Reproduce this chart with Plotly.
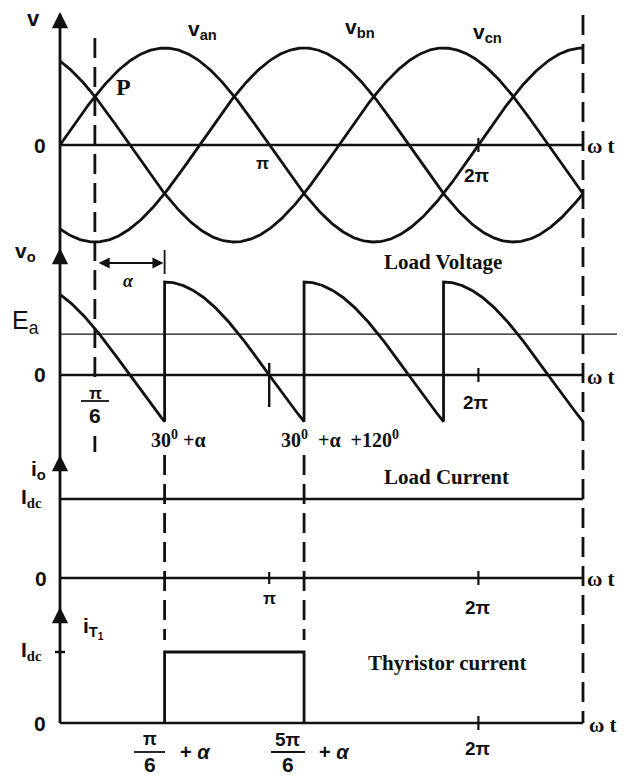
import numpy as np
import plotly.graph_objects as go

W, H = 629, 778

# ---- waveform data (angles in degrees) ----
PHASE_LABELS = ["v<sub>an</sub>", "v<sub>bn</sub>", "v<sub>cn</sub>"]
PHASE_SHIFTS_DEG = [0, 120, 240]
PEAK = 1.0
THETA_END = 450            # 2.5π, end of the drawn window

ALPHA_DEG = 60
FIRING_DEG = [90, 210, 330]                 # π/6 + α, then every 120°
INTERVAL_EDGES_DEG = [0, 90, 210, 330, 450]  # conduction intervals of the output
INTERVAL_PHASE = [2, 0, 1, 2]                # phase conducting in each interval (a=0, b=1, c=2)
EA_LEVEL = 0.44
IDC = 1.0
T1_ON_DEG = 90
T1_OFF_DEG = 210

# ---- geometry helpers ----
X0_PX, XEND_PX = 60, 583
K = (XEND_PX - X0_PX) / THETA_END          # px per degree


def px_x(px):
    return px / W


def px_y(py):
    return 1 - py / H


def panel_axis(top_px, bottom_px, zero_px, unit_px):
    return dict(domain=[px_y(bottom_px), px_y(top_px)],
                range=[(zero_px - bottom_px) / unit_px, (zero_px - top_px) / unit_px],
                visible=False, anchor="x", fixedrange=True)


SANS = "Liberation Sans"
SERIF = "Liberation Serif"
INK = "#111111"
LW = 2.8

fig = go.Figure()


def line(x, y, yaxis, width=LW, dash=None):
    fig.add_trace(go.Scatter(x=x, y=y, yaxis=yaxis, mode="lines",
                             line=dict(color=INK, width=width, dash=dash),
                             hoverinfo="skip", showlegend=False))


# ---- panel 1: supply phase voltages ----
theta = np.linspace(0, THETA_END, 600)
for shift in PHASE_SHIFTS_DEG:
    line(theta, PEAK * np.sin(np.radians(theta - shift)), "y")
line([0, THETA_END], [0, 0], "y", width=2.3)

# ---- panel 2: load voltage ----
vo_x, vo_y = [], []
for (a, b), ph in zip(zip(INTERVAL_EDGES_DEG[:-1], INTERVAL_EDGES_DEG[1:]), INTERVAL_PHASE):
    seg = np.linspace(a, b, 120)
    vo_x.extend(seg)
    vo_y.extend(PEAK * np.sin(np.radians(seg - PHASE_SHIFTS_DEG[ph])))
line(vo_x, vo_y, "y2")
line([0, THETA_END], [0, 0], "y2", width=2.3)
line([0, (617 - X0_PX) / K], [EA_LEVEL, EA_LEVEL], "y2", width=1.3)

# ---- panel 3: load current ----
line([0, THETA_END], [IDC, IDC], "y3", width=2.3)
line([0, THETA_END], [0, 0], "y3", width=2.3)

# ---- panel 4: thyristor current ----
line([T1_ON_DEG, T1_ON_DEG, T1_OFF_DEG, T1_OFF_DEG], [0, IDC, IDC, 0], "y4")
line([0, THETA_END], [0, 0], "y4", width=2.3)

shapes = []


def vseg(xdeg, py0, py1, width=LW, dash=None):
    shapes.append(dict(type="line", xref="x", yref="paper", x0=xdeg, x1=xdeg,
                       y0=px_y(py0), y1=px_y(py1),
                       line=dict(color=INK, width=width, dash=dash)))


def hseg_px(px0, px1, py, width=1.6):
    shapes.append(dict(type="line", xref="paper", yref="paper", x0=px_x(px0), x1=px_x(px1),
                       y0=px_y(py), y1=px_y(py), line=dict(color=INK, width=width)))


# vertical axis through all panels
vseg(0, 14, 723, width=2.8)
# reference dashed lines
DASH = "20px,9px"
vseg(30, 38, 383, dash=DASH)
vseg(30, 436, 452)
vseg(THETA_END, 15, 723, dash=DASH)
vseg(T1_ON_DEG, 455, 640, dash=DASH)
vseg(T1_OFF_DEG, 455, 640, dash=DASH)
vseg(180, 363, 407, width=2.4)
# axis ticks
vseg(360, 138, 152, width=2.2)
vseg(360, 368, 382, width=2.2)
vseg(180, 572, 584, width=2.2)
vseg(360, 571, 585, width=2.2)
vseg(360, 716, 730, width=2.2)
vseg(T1_ON_DEG, 250, 274, width=1.8)
hseg_px(55, 65, 652, width=2.4)
# fraction bars
hseg_px(81, 109, 401, width=1.8)
hseg_px(134, 165, 752, width=1.8)
hseg_px(271, 305, 752, width=1.8)

annotations = []


def note(text, px, py, size=16, family=SANS, xanchor="center", bold=True):
    annotations.append(dict(text=text,
                            xref="paper", yref="paper", x=px_x(px), y=px_y(py),
                            xanchor=xanchor, yanchor="middle", showarrow=False,
                            font=dict(family=family, size=size, color=INK,
                                      weight="bold" if bold else "normal")))


def arrow_up(py):
    annotations.append(dict(text="", xref="x", yref="paper", x=0, y=px_y(py),
                            ax=0, ay=16, showarrow=True, arrowhead=2, arrowsize=1.3,
                            arrowwidth=2.5, arrowcolor=INK))


for p in (12, 248, 455, 607):
    arrow_up(p)

# alpha span arrow
annotations.append(dict(text="", xref="x", yref="y2", x=T1_ON_DEG - 1, y=(375 - 263) / 93,
                        axref="x", ayref="y2", ax=32, ay=(375 - 263) / 93,
                        showarrow=True, arrowhead=2, startarrowhead=2, arrowside="end+start",
                        arrowsize=1, arrowwidth=2.2, arrowcolor=INK))

DC = f"<span style='font-family:{SERIF}'>dc</span>"

# panel 1 labels
note("v", 33, 18, 22)
note("0", 40, 145, 21)
note(PHASE_LABELS[0], 202, 30, 21)
note(PHASE_LABELS[1], 360, 28, 21)
note(PHASE_LABELS[2], 487, 33, 21)
note("P", 123, 87, 24, SERIF)
note("π", 262, 164, 17)
note("2π", 477, 175, 19)
note("ω t", 585, 146, 21, SERIF, xanchor="left")

# panel 2 labels
note("v<sub>o</sub>", 25, 252, 21)
note("Load Voltage", 443, 262, 21, SERIF)
note("<i>α</i>", 128, 281, 18, SERIF)
note("E<sub>a</sub>", 26, 322, 25, bold=False)
note("0", 40, 375, 21)
note("π", 95, 393, 17)
note("6", 95, 416, 21)
note("30<sup>0</sup> +α", 178, 439, 20, SERIF)
note("30<sup>0</sup>  +α  +120<sup>0</sup>", 340, 439, 20, SERIF)
note("2π", 476, 403, 19)
note("ω t", 585, 377, 21, SERIF, xanchor="left")

# panel 3 labels
note("i<sub>o</sub>", 38, 470, 21)
note(f"I<sub>{DC}</sub>", 31, 498, 21)
note("Load Current", 447, 477, 21, SERIF)
note("0", 41, 578, 21)
note("π", 60 + 180 * K, 598, 17)
note("2π", 60 + 360 * K, 607, 19)
note("ω t", 585, 579, 21, SERIF, xanchor="left")

# panel 4 labels
note("i<sub>T<sub>1</sub></sub>", 93, 628, 21)
note(f"I<sub>{DC}</sub>", 31, 651, 21)
note("Thyristor current", 447, 663, 21, SERIF)
note("0", 40, 723, 21)
note("π", 150, 739, 18)
note("6", 150, 764, 21)
note("+ <i>α</i>", 195, 752, 20)
note("5π", 288, 739, 19)
note("6", 288, 764, 21)
note("+ <i>α</i>", 334, 752, 20)
note("2π", 60 + 360 * K, 748, 19)
note("ω t", 587, 725, 21, SERIF, xanchor="left")

fig.update_layout(
    width=W, height=H, autosize=False,
    margin=dict(l=0, r=0, t=0, b=0),
    paper_bgcolor="white", plot_bgcolor="rgba(0,0,0,0)",
    showlegend=False,
    xaxis=dict(range=[-X0_PX / K, (W - X0_PX) / K], visible=False, anchor="y", fixedrange=True),
    yaxis=panel_axis(4, 245, 145, 97),
    yaxis2=panel_axis(245, 450, 375, 93),
    yaxis3=panel_axis(450, 600, 578, 79),
    yaxis4=panel_axis(600, 776, 723, 71),
    shapes=shapes,
    annotations=annotations,
)

fig.write_html("out.html")
